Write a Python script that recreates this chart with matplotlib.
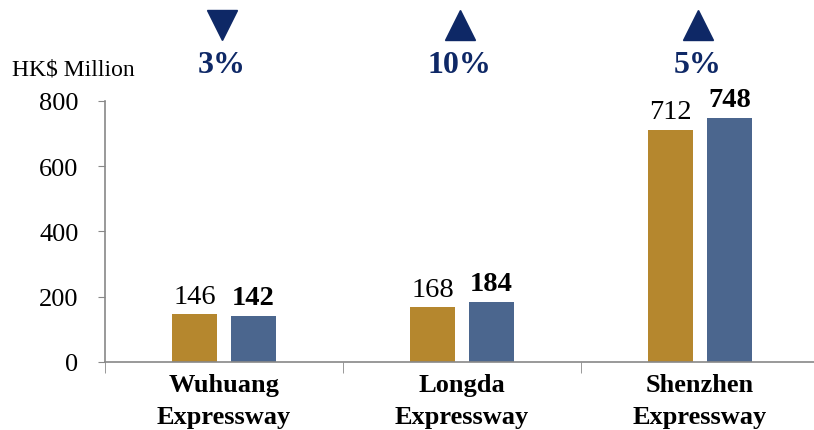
import numpy as np
import matplotlib.pyplot as plt
from matplotlib.transforms import blended_transform_factory

plt.rcParams['font.family'] = ['Liberation Serif', 'DejaVu Serif']

categories = ['Wuhuang\nExpressway', 'Longda\nExpressway', 'Shenzhen\nExpressway']
prev_year = [146, 168, 712]
this_year = [142, 184, 748]
changes = ['3%', '10%', '5%']
directions = ['down', 'up', 'up']

gold = '#B5872E'
blue = '#4B668E'
navy = '#0E2866'

fig = plt.figure(figsize=(8.14, 4.31), dpi=100)
ax = fig.add_axes([0.129, 0.158, 0.877, 0.6055])

x = np.arange(len(categories))
w = 0.19
off = 0.124
ax.bar(x - off, prev_year, w, color=gold)
ax.bar(x + off, this_year, w, color=blue)

for i in range(len(x)):
    ax.annotate(str(prev_year[i]), (x[i] - off, prev_year[i]), xytext=(0, 4),
                textcoords='offset points', ha='center', va='bottom', fontsize=20.5)
    ax.annotate(str(this_year[i]), (x[i] + off, this_year[i]), xytext=(0, 4),
                textcoords='offset points', ha='center', va='bottom', fontsize=20.5,
                fontweight='bold')

tr = blended_transform_factory(ax.transData, ax.transAxes)
for i in range(len(x)):
    m = 'v' if directions[i] == 'down' else '^'
    ax.plot(x[i] - 0.01, 1.29, marker=m, markersize=21, color=navy,
            transform=tr, clip_on=False, linestyle='none')
    ax.text(x[i] - 0.01, 1.14, changes[i], transform=tr, ha='center', va='center',
            fontsize=23, fontweight='bold', color=navy)

ax.set_xlim(-0.5, 2.5)
ax.set_ylim(0, 800)
ax.set_yticks([0, 200, 400, 600, 800])
ax.tick_params(axis='y', labelsize=19, length=5, color='#888888', pad=14)
ax.set_xticks(x)
ax.set_xticklabels(categories, fontsize=19, fontweight='bold', linespacing=1.5)
ax.tick_params(axis='x', length=0, pad=8)
ax.set_xticks([-0.5, 0.5, 1.5, 2.5], minor=True)
ax.tick_params(axis='x', which='minor', length=8, color='#888888')

for s in ['top', 'right']:
    ax.spines[s].set_visible(False)
for s in ['left', 'bottom']:
    ax.spines[s].set_color('#888888')
    ax.spines[s].set_linewidth(1.2)

fig.text(12 / 814, 1 - 70 / 431, 'HK$ Million', fontsize=17, va='center', ha='left')

fig.savefig('out.png', dpi=100)
